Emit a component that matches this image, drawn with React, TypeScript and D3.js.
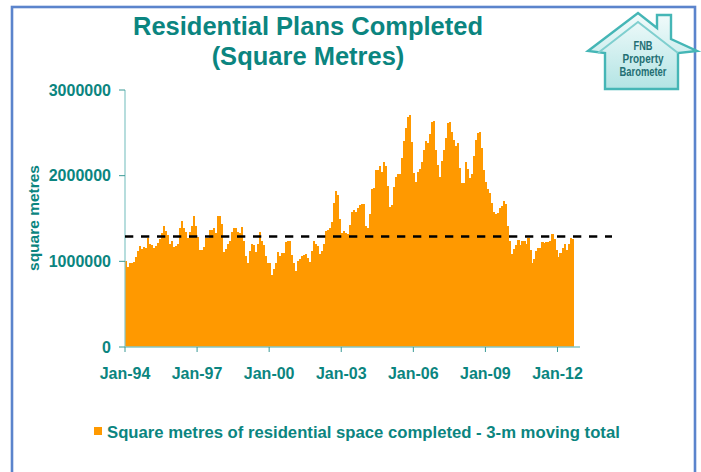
import React from "react";
import * as d3 from "d3";

// ---- data ----
const START_MONTH = new Date(1994, 0, 1);
const VALUES: number[] = [
  1000000, 930000, 980000, 980000, 990000, 1045000, 1118000, 1177000, 1142000, 1165000,
  1153000, 1270000, 1200000, 1190000, 1153000, 1177000, 1212000, 1258000, 1328000, 1410000,
  1352000, 1305000, 1200000, 1235000, 1165000, 1177000, 1200000, 1387000, 1469000, 1387000,
  1340000, 1270000, 1340000, 1410000, 1527000, 1410000, 1280000, 1130000, 1130000, 1165000,
  1270000, 1270000, 1363000, 1363000, 1387000, 1328000, 1527000, 1527000, 1434000, 1106000,
  1142000, 1200000, 1235000, 1340000, 1387000, 1387000, 1340000, 1328000, 1398000, 1235000,
  1060000, 980000, 1118000, 1200000, 1190000, 1106000, 1200000, 1340000, 1235000, 1190000,
  1060000, 980000, 980000, 838000, 907000, 980000, 1106000, 1060000, 1094000, 1094000,
  1224000, 1235000, 1235000, 1070000, 980000, 885000, 1000000, 1023000, 1060000, 1071000,
  1083000, 1036000, 990000, 1118000, 1235000, 1200000, 1177000, 1083000, 1118000, 1200000,
  1352000, 1363000, 1387000, 1457000, 1679000, 1820000, 1773000, 1492000, 1328000, 1352000,
  1328000, 1317000, 1422000, 1574000, 1598000, 1574000, 1620000, 1656000, 1667000, 1667000,
  1410000, 1387000, 1550000, 1843000, 1855000, 2065000, 2065000, 2112000, 2042000, 2159000,
  2112000, 1878000, 1632000, 1656000, 1867000, 1983000, 2018000, 2018000, 2205000, 2404000,
  2555000, 2684000, 2708000, 2392000, 2030000, 1925000, 2042000, 2077000, 2159000, 2299000,
  2404000, 2380000, 2485000, 2625000, 2637000, 2299000, 2124000, 1983000, 2170000, 2299000,
  2439000, 2614000, 2625000, 2508000, 2415000, 2345000, 2380000, 2089000, 1913000, 1913000,
  2159000, 2077000, 1972000, 2018000, 2229000, 2415000, 2497000, 2508000, 2322000, 2065000,
  1925000, 1843000, 1797000, 1680000, 1574000, 1550000, 1562000, 1620000, 1644000, 1702000,
  1667000, 1410000, 1235000, 1083000, 1142000, 1188000, 1247000, 1188000, 1235000, 1235000,
  1200000, 1270000, 1130000, 978000, 1025000, 1118000, 1153000, 1153000, 1224000, 1212000,
  1224000, 1224000, 1235000, 1317000, 1259000, 1130000, 1048000, 1095000, 1153000, 1200000,
  1130000, 1200000, 1270000, 1259000,
];
const CATEGORIES: string[] = VALUES.map((_, i) =>
  d3.timeFormat("%b-%y")(d3.timeMonth.offset(START_MONTH, i))
);
const X_TICK_LABELS = ["Jan-94", "Jan-97", "Jan-00", "Jan-03", "Jan-06", "Jan-09", "Jan-12"];
const Y_TICKS = [0, 1000000, 2000000, 3000000];
const AVERAGE_LINE = 1290000;

const TITLE_1 = "Residential Plans Completed";
const TITLE_2 = "(Square Metres)";
const Y_TITLE = "square metres";
const LEGEND_LABEL = "Square metres of residential space completed - 3-m moving total";
const LOGO_LINES = ["FNB", "Property", "Barometer"];

// ---- style ----
const TEAL = "#0b8580";
const ORANGE = "#FF9900";
const AXIS_LIGHT = "#86c7c7";
const FONT = "'Liberation Sans', Arial, sans-serif";

export default function App() {
  const plotLeft = 125;
  const step = 2.0023;
  const x = d3
    .scaleBand<string>()
    .domain(CATEGORIES)
    .range([plotLeft, plotLeft + CATEGORIES.length * step])
    .paddingInner(0)
    .paddingOuter(0);
  const y = d3.scaleLinear().domain([0, 3000000]).range([347, 90]);
  const axisRight = 580;
  const bw = x.bandwidth();

  const fmtY = (v: number) => d3.format("d")(v);

  return (
    <svg
      width={701}
      height={472}
      style={{ position: "absolute", left: 0, top: 0, background: "#fff" }}
      fontFamily={FONT}
    >
      <defs>
        <linearGradient id="houseFill" x1="0" y1="0" x2="0" y2="1">
          <stop offset="0" stopColor="#f2fbfb" />
          <stop offset="1" stopColor="#b3e4e4" />
        </linearGradient>
      </defs>
      <rect x={0} y={0} width={701} height={472} fill="#fff" />
      {/* frame */}
      <rect x={12} y={7} width={683} height={520} fill="none" stroke="#5b84cc" strokeWidth={2.6} />

      {/* title */}
      <text x={308} y={35} textAnchor="middle" fontSize={25.5} fontWeight="bold" fill={TEAL}>
        {TITLE_1}
      </text>
      <text x={308} y={65} textAnchor="middle" fontSize={25.5} fontWeight="bold" fill={TEAL}>
        {TITLE_2}
      </text>

      {/* logo */}
      <g>
        <polygon
          points="588,51 638,13 657,28 657,15 671,15 671,39 697,51 678,53 678,89 605,89 605,53"
          fill="url(#houseFill)"
          stroke="#45b6b6"
          strokeWidth={2.4}
          strokeLinejoin="miter"
        />
        <polyline
          points="598,53 638,22 678,53"
          fill="none"
          stroke="#7fcfcf"
          strokeWidth={2}
        />
        {LOGO_LINES.map((t, i) => (
          <text
            key={t}
            x={643}
            y={50 + i * 13}
            textAnchor="middle"
            fontSize={12}
            fontWeight="bold"
            fill="#236f73"
            textLength={t === "FNB" ? 19 : t === "Property" ? 41 : 47}
            lengthAdjust="spacingAndGlyphs"
          >
            {t}
          </text>
        ))}
      </g>

      {/* bars */}
      <g shapeRendering="crispEdges">
        {VALUES.map((v, i) => (
          <rect
            key={i}
            x={x(CATEGORIES[i])!}
            y={y(v)}
            width={bw + 0.05}
            height={y(0) - y(v)}
            fill={ORANGE}
          />
        ))}
      </g>

      {/* y axis */}
      <line x1={plotLeft} x2={plotLeft} y1={y(3000000)} y2={y(0)} stroke={AXIS_LIGHT} strokeWidth={1.2} />
      {Y_TICKS.map((t) => (
        <g key={t}>
          <line x1={plotLeft - 6} x2={plotLeft} y1={y(t)} y2={y(t)} stroke="#3a9a96" strokeWidth={1} />
          <text x={111} y={y(t) + 5.8} textAnchor="end" fontSize={16} fontWeight="bold" fill={TEAL}>
            {fmtY(t)}
          </text>
        </g>
      ))}
      <text
        transform={`translate(38.5,218) rotate(-90)`}
        textAnchor="middle"
        fontSize={15.5}
        fontWeight="bold"
        fill={TEAL}
      >
        {Y_TITLE}
      </text>

      {/* x axis */}
      <line x1={plotLeft} x2={axisRight} y1={y(0)} y2={y(0)} stroke={AXIS_LIGHT} strokeWidth={1.5} />
      {X_TICK_LABELS.map((lab) => {
        const xx = x(lab)!;
        return (
          <g key={lab}>
            <line x1={xx} x2={xx} y1={y(0)} y2={y(0) + 5} stroke="#3a9a96" strokeWidth={1} />
            <text x={xx} y={378.5} textAnchor="middle" fontSize={16} fontWeight="bold" fill={TEAL}>
              {lab}
            </text>
          </g>
        );
      })}

      {/* long-term average dashed line */}
      <line
        x1={plotLeft}
        x2={612}
        y1={y(AVERAGE_LINE)}
        y2={y(AVERAGE_LINE)}
        stroke="#000"
        strokeWidth={2.6}
        strokeDasharray="8.3 7.7"
      />

      {/* legend */}
      <rect x={94} y={427} width={8} height={8} fill={ORANGE} />
      <text x={107} y={438} fontSize={16.7} fontWeight="bold" fill={TEAL}>
        {LEGEND_LABEL}
      </text>
    </svg>
  );
}
